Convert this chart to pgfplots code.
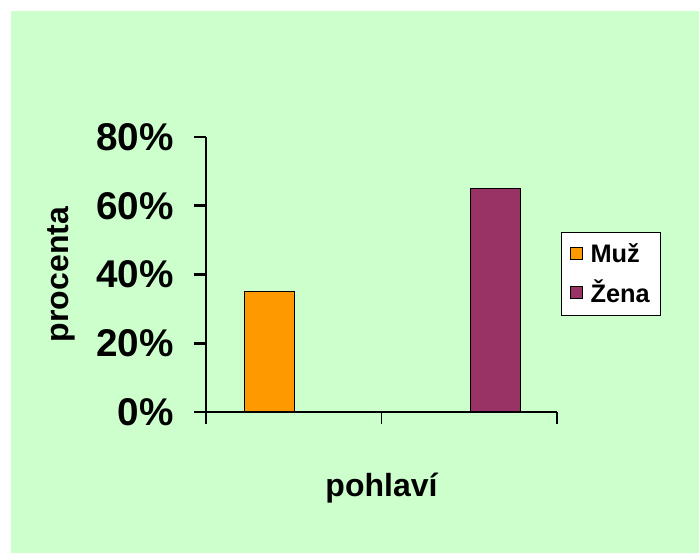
\documentclass[border=0pt]{standalone}
\usepackage{fontspec}
\setmainfont{Liberation Sans}
\usepackage{pgfplots}
\pgfplotsset{compat=1.18}
\definecolor{bggreen}{HTML}{CCFFCC}
\definecolor{muz}{HTML}{FF9900}
\definecolor{zena}{HTML}{993366}
\begin{document}
\begin{tikzpicture}
\fill[white] (0,0) rectangle (524.25pt,-414.75pt);
\fill[bggreen] (8.25pt,-8.25pt) rectangle (524.25pt,-414.75pt);
\useasboundingbox (0,0) rectangle (524.25pt,-414.75pt);
\begin{axis}[
  at={(154.5pt,-309pt)}, anchor=south west,
  scale only axis, width=263.25pt, height=206.25pt,
  xmin=0, xmax=2, ymin=0, ymax=80,
  axis x line*=bottom, axis y line*=left,
  x axis line style={line width=1pt},
  y axis line style={line width=2pt},
  xtick={0,1,2}, xticklabels={},
  ytick={0,20,40,60,80},
  yticklabels={0\%,20\%,40\%,60\%,80\%},
  tick align=outside, major tick length=9pt,
  xtick style={line width=1pt, black},
  ytick style={line width=2pt, black},
  /pgf/number format/assume math mode=true,
  yticklabel style={font=\fontsize{29}{31}\selectfont\bfseries, inner sep=0pt, xshift=-15pt},
  xlabel={pohlaví}, ylabel={procenta},
  label style={font=\fontsize{24}{28}\selectfont\bfseries},
  xlabel style={at={(axis description cs:0.5,-0.276)}, anchor=center},
  ylabel style={at={(axis description cs:-0.411,0.5)}, anchor=center},
  legend style={at={(axis description cs:1.011,0.6545)}, anchor=north west,
    draw=black, line width=1pt, fill=white,
    font=\fontsize{19}{22}\selectfont\bfseries,
    inner xsep=6pt, inner ysep=6pt, row sep=8pt,
    legend cell align=left,
    /tikz/every odd column/.append style={column sep=4pt}},
  legend image code/.code={\draw[#1, line width=0.8pt] (0pt,-4.5pt) rectangle (9pt,4.5pt);},
]
\addplot[ybar, bar width=0.287, bar shift=0, fill=muz, draw=black, line width=1pt] coordinates {(0.361,35)};
\addlegendentry{Muž}
\addplot[ybar, bar width=0.287, bar shift=0, fill=zena, draw=black, line width=1pt] coordinates {(1.649,65)};
\addlegendentry{Žena}
\end{axis}
\end{tikzpicture}
\end{document}
